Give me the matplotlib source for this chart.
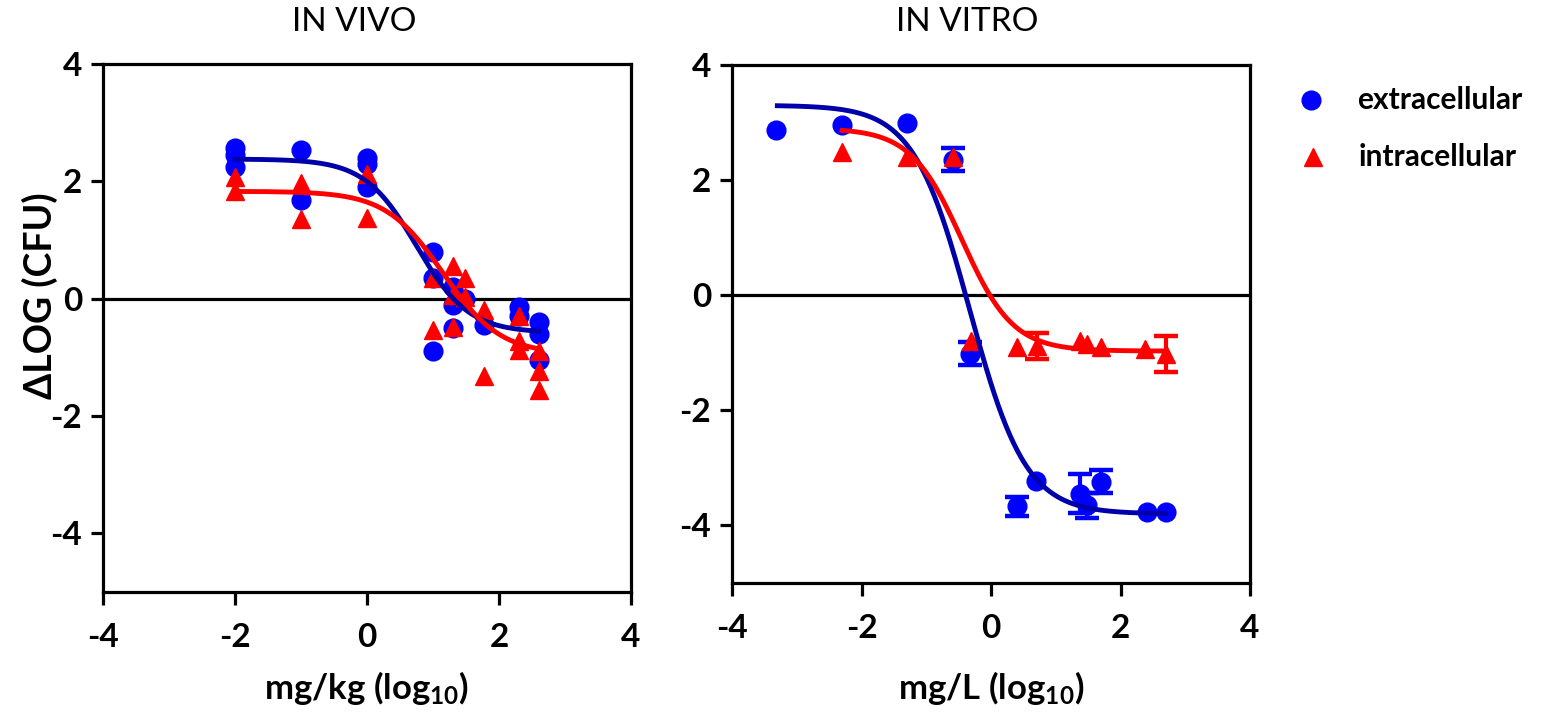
import numpy as np
import matplotlib
matplotlib.use("Agg")
import matplotlib.pyplot as plt
from matplotlib.lines import Line2D

plt.rcParams['font.family'] = ['Lato', 'DejaVu Sans']
plt.rcParams['axes.unicode_minus'] = False
plt.rcParams['mathtext.fontset'] = 'custom'
plt.rcParams['mathtext.bf'] = 'Lato:bold'
plt.rcParams['mathtext.rm'] = 'Lato:bold'
plt.rcParams['mathtext.default'] = 'bf'

# ---------------- data: IN VIVO ----------------
vivo_ext_x = [-2, -2, -2, -1, -1, 0, 0, 0, 1, 1, 1, 1.3, 1.3, 1.3, 1.48, 1.78, 2.3, 2.3, 2.6, 2.6, 2.6]
vivo_ext_y = [2.57, 2.45, 2.25, 2.54, 1.69, 2.40, 2.30, 1.90, 0.80, 0.36, -0.90, 0.20, -0.10, -0.50, 0.0, -0.45, -0.15, -0.30, -0.39, -0.61, -1.04]
vivo_int_x = [-2, -2, -1, -1, 0, 0, 1, 1, 1.3, 1.3, 1.3, 1.48, 1.48, 1.78, 1.78, 2.3, 2.3, 2.3, 2.6, 2.6, 2.6]
vivo_int_y = [2.08, 1.84, 1.97, 1.35, 2.12, 1.38, 0.35, -0.53, 0.55, 0.07, -0.48, 0.36, 0.03, -0.19, -1.32, -0.30, -0.73, -0.87, -0.90, -1.24, -1.55]

# fitted sigmoid parameters (top, bottom, logEC50, hill) and x-range of the fit
vivo_ext_fit = [2.38, -0.58, 0.75, 1.1]
vivo_int_fit = [1.83, -0.95, 1.15, 1.0]
vivo_ext_range = [-2, 2.6]
vivo_int_range = [-2, 2.6]

# ---------------- data: IN VITRO ----------------
vitro_ext_x = [-3.32, -2.3, -1.3, -0.59, -0.32, 0.4, 0.7, 1.38, 1.48, 1.7, 2.41, 2.7]
vitro_ext_y = [2.87, 2.96, 3.0, 2.35, -1.02, -3.67, -3.22, -3.45, -3.65, -3.24, -3.76, -3.76]
vitro_ext_err = [0, 0, 0, 0.2, 0.2, 0.17, 0, 0.34, 0.22, 0.2, 0, 0]
vitro_int_x = [-2.3, -1.3, -0.59, -0.31, 0.4, 0.71, 1.37, 1.48, 1.7, 2.38, 2.7]
vitro_int_y = [2.48, 2.41, 2.40, -0.80, -0.90, -0.88, -0.80, -0.85, -0.90, -0.94, -1.02]
vitro_int_err = [0, 0, 0, 0, 0, 0.22, 0, 0, 0, 0, 0.32]

vitro_ext_fit = [3.3, -3.8, -0.33, 1.0]
vitro_int_fit = [2.9, -0.97, -0.45, 1.1]
vitro_ext_range = [-3.3, 2.7]
vitro_int_range = [-2.3, 2.7]

titles = ["IN VIVO", "IN VITRO"]
xlabels = [r"mg/kg (log$_{10}$)", r"mg/L (log$_{10}$)"]
ylabel = "\u0394LOG (CFU)"
legend_labels = ["extracellular", "intracellular"]
ticks = [-4, -2, 0, 2, 4]

BLUE = "#0000FF"
RED = "#FF0000"
BLUE_LINE = "#0000AA"
RED_LINE = "#FF0000"


def hill(x, p):
    top, bottom, logec, h = p
    return bottom + (top - bottom) / (1 + 10 ** ((x - logec) * h))


fig = plt.figure(figsize=(15.48, 7.12), dpi=100)
W, H = 1548, 712
ax1 = fig.add_axes([103 / W, 1 - 592 / H, 528 / W, 528 / H])
ax2 = fig.add_axes([732 / W, 1 - 583 / H, 518 / W, 518 / H])

lw_sp = 2.3
for ax in (ax1, ax2):
    ax.set_xlim(-4, 4)
    ax.set_ylim(-5, 4)
    ax.set_xticks(ticks)
    ax.set_yticks(ticks)
    ax.set_xticklabels([str(t) for t in ticks])
    ax.set_yticklabels([str(t) for t in ticks])
    for s in ax.spines.values():
        s.set_linewidth(lw_sp)
    ax.tick_params(axis='both', which='both', direction='out', length=9, width=lw_sp,
                   labelsize=24, top=False, right=False)
    ax.tick_params(axis='x', pad=13)
    ax.tick_params(axis='y', pad=6)
    for lab in ax.get_xticklabels() + ax.get_yticklabels():
        lab.set_fontweight('bold')
    ax.axhline(0, color='black', lw=2.3, zorder=1)

ms = 13.5
mew = 1.0
# IN VIVO
for p, r, c in [(vivo_ext_fit, vivo_ext_range, BLUE_LINE), (vivo_int_fit, vivo_int_range, RED_LINE)]:
    xx = np.linspace(r[0], r[1], 300)
    ax1.plot(xx, hill(xx, p), color=c, lw=3.5, zorder=3)
ax1.plot(vivo_ext_x, vivo_ext_y, 'o', color=BLUE, ms=ms, mew=mew, mec=BLUE, zorder=2)
ax1.plot(vivo_int_x, vivo_int_y, '^', color=RED, ms=ms, mew=mew, mec=RED, zorder=2)

# IN VITRO
for p, r, c in [(vitro_ext_fit, vitro_ext_range, BLUE_LINE), (vitro_int_fit, vitro_int_range, RED_LINE)]:
    xx = np.linspace(r[0], r[1], 300)
    ax2.plot(xx, hill(xx, p), color=c, lw=3.5, zorder=3)
for xs, ys, es, mk, col in [(vitro_ext_x, vitro_ext_y, vitro_ext_err, 'o', BLUE),
                            (vitro_int_x, vitro_int_y, vitro_int_err, '^', RED)]:
    xs, ys, es = np.array(xs), np.array(ys), np.array(es)
    m = es > 0
    ax2.errorbar(xs[m], ys[m], yerr=es[m], fmt='none', ecolor=col, elinewidth=3,
                 capsize=8.3, capthick=3.2, zorder=2)
    ax2.plot(xs, ys, mk, color=col, ms=ms, mew=mew, mec=col, zorder=2)

# titles
fig.text(354 / W, 1 - 22 / H, titles[0], ha='center', va='center', fontsize=24)
fig.text(967 / W, 1 - 22 / H, titles[1], ha='center', va='center', fontsize=24)

# x labels
fig.text(367 / W, 1 - 688 / H, xlabels[0], ha='center', va='center', fontsize=25, fontweight='bold')
fig.text(991 / W, 1 - 688 / H, xlabels[1], ha='center', va='center', fontsize=25, fontweight='bold')

# y label
fig.text(40 / W, 1 - 296 / H, ylabel, ha='center', va='center', rotation=90, fontsize=27,
         fontweight='bold')

# legend (manual)
leg_y = [100, 157]
leg_mx = [1311, 1313]
leg_tx = [1357, 1359]
leg_markers = ['o', '^']
leg_colors = [BLUE, RED]
for i in range(2):
    fig.add_artist(Line2D([leg_mx[i] / W], [1 - leg_y[i] / H], transform=fig.transFigure,
                          marker=leg_markers[i], ls='none', color=leg_colors[i], ms=ms,
                          mew=mew, mec=leg_colors[i]))
    fig.text(leg_tx[i] / W, 1 - leg_y[i] / H, legend_labels[i], ha='left', va='center',
             fontsize=21.5, fontweight='bold')

fig.savefig("out.png", dpi=100)
